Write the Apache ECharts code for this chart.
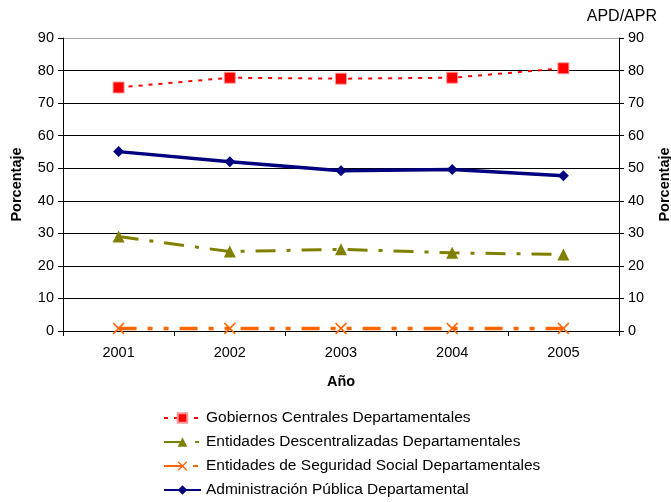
<!DOCTYPE html>
<html>
<head>
<meta charset="utf-8">
<script src="https://cdn.jsdelivr.net/npm/echarts@6/dist/echarts.min.js"></script>
<style>html,body{margin:0;padding:0;background:#fff}#c{width:671px;height:502px}</style>
</head>
<body>
<div id="c"></div>
<script>
var years = ['2001', '2002', '2003', '2004', '2005'];
var gobiernos = [74.8, 77.8, 77.5, 77.8, 80.7];
var descentralizadas = [29.0, 24.4, 25.1, 24.0, 23.5];
var seguridad = [0.8, 0.8, 0.8, 0.8, 0.8];
var administracion = [55.1, 52.0, 49.2, 49.6, 47.7];
var seriesNames = [
  'Gobiernos Centrales Departamentales',
  'Entidades Descentralizadas Departamentales',
  'Entidades de Seguridad Social Departamentales',
  'Administración Pública Departamental'
];

var font = 'Liberation Sans, Arial, sans-serif';
var chart = echarts.init(document.getElementById('c'));
var splitColors = ['#000','#000','#000','#000','#000','#000','#000','#000','#000','#aaaaaa'];
var xMark = 'path://M0,1L1,0L5,4L9,0L10,1L6,5L10,9L9,10L5,6L1,10L0,9L4,5Z';

chart.setOption({
  animation: false,
  textStyle: { fontFamily: font, color: '#000' },
  title: {
    text: 'APD/APR', right: 9, top: 4,
    textStyle: { fontFamily: font, fontSize: 16, fontWeight: 'normal', color: '#000' }
  },
  grid: { left: 63, right: 52, top: 38, bottom: 171, containLabel: false, outerBoundsMode: 'none' },
  legend: {
    orient: 'vertical', left: 163, top: 410, padding: 0, height: 92,
    itemWidth: 37, itemHeight: 12, itemGap: 8,
    textStyle: { fontFamily: font, fontSize: 15.5, color: '#000' },
    data: seriesNames
  },
  xAxis: {
    type: 'category', data: years, boundaryGap: true,
    name: 'Año', nameLocation: 'middle', nameGap: 43,
    nameTextStyle: { fontFamily: font, fontSize: 14.5, fontWeight: 'bold', color: '#000' },
    axisLine: { lineStyle: { color: '#000', width: 1 } },
    axisTick: { show: true, length: 5, lineStyle: { color: '#000' } },
    axisLabel: { fontFamily: font, fontSize: 14.5, color: '#000', margin: 14 }
  },
  yAxis: [{
    type: 'value', min: 0, max: 90, interval: 10, position: 'left',
    name: 'Porcentaje', nameLocation: 'middle', nameGap: 39, nameRotate: 90,
    nameTextStyle: { fontFamily: font, fontSize: 14.5, fontWeight: 'bold', color: '#000' },
    axisLine: { show: true, lineStyle: { color: '#000' } },
    axisTick: { show: true, length: 5, lineStyle: { color: '#000' } },
    axisLabel: { fontFamily: font, fontSize: 14.5, color: '#000', margin: 9 },
    splitLine: { show: true, lineStyle: { color: splitColors, width: 1 } }
  }, {
    type: 'value', min: 0, max: 90, interval: 10, position: 'right',
    name: 'Porcentaje', nameLocation: 'middle', nameGap: 38, nameRotate: 90,
    nameTextStyle: { fontFamily: font, fontSize: 14.5, fontWeight: 'bold', color: '#000' },
    axisLine: { show: true, lineStyle: { color: '#000' } },
    axisTick: { show: true, length: 5, lineStyle: { color: '#000' } },
    axisLabel: { fontFamily: font, fontSize: 14.5, color: '#000', margin: 9 },
    splitLine: { show: false }
  }],
  series: [{
    name: seriesNames[0], type: 'line', data: gobiernos,
    symbol: 'rect', symbolSize: 11,
    itemStyle: { color: '#ff0000', borderColor: '#ff9999', borderWidth: 1 },
    lineStyle: { color: '#ff0000', width: 2, type: [4, 6] }
  }, {
    name: seriesNames[1], type: 'line', data: descentralizadas,
    symbol: 'triangle', symbolSize: 12,
    itemStyle: { color: '#808000' },
    lineStyle: { color: '#808000', width: 3, type: [20, 11, 4, 11] }
  }, {
    name: seriesNames[2], type: 'line', data: seguridad,
    symbol: xMark, symbolSize: 12,
    itemStyle: { color: '#ff6600' },
    lineStyle: { color: '#ff6600', width: 3.5, type: [18, 11, 5, 11, 5, 11] }
  }, {
    name: seriesNames[3], type: 'line', data: administracion,
    symbol: 'diamond', symbolSize: 11,
    itemStyle: { color: '#000080' },
    lineStyle: { color: '#000080', width: 3.5 }
  }]
});
</script>
</body>
</html>
